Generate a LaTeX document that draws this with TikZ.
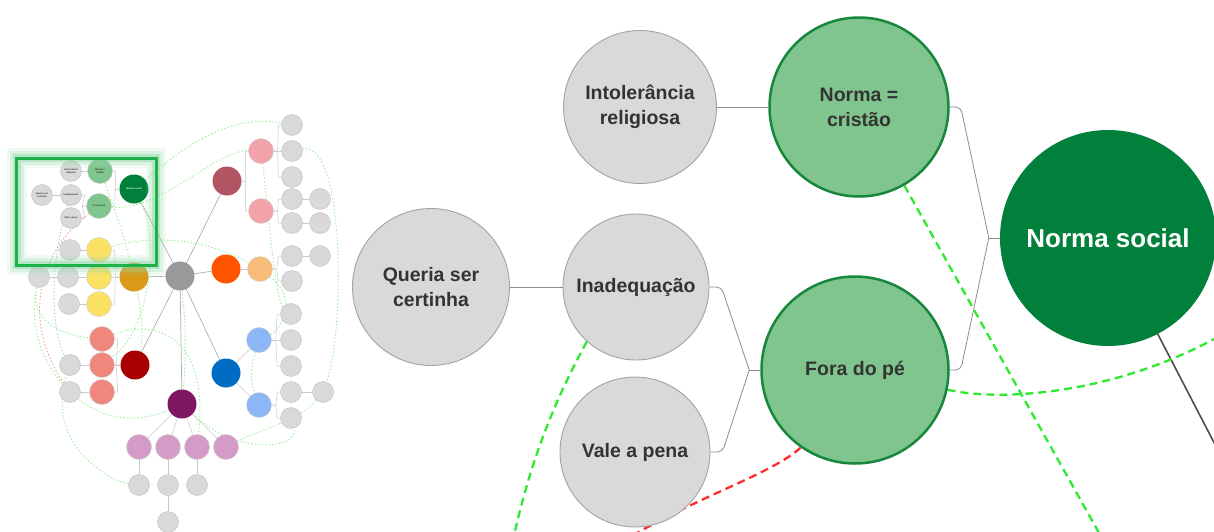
\documentclass[tikz,border=0pt]{standalone}
\usepackage{fontspec}
\setmainfont{Liberation Sans}
\usetikzlibrary{positioning,backgrounds}
\definecolor{ballgray}{HTML}{D9D9D9}
\definecolor{ballline}{HTML}{A3A3A3}
\definecolor{labeltext}{HTML}{333333}
\definecolor{lightgreen}{HTML}{80C48E}
\definecolor{darkgreen}{HTML}{17873D}
\definecolor{normagreen}{HTML}{00803A}
\definecolor{linkgray}{HTML}{8C8C8C}
\definecolor{hubgray}{HTML}{4D4D4D}
\definecolor{dashgreen}{HTML}{2EEA2E}
\definecolor{dashred}{HTML}{FF2A2A}
\definecolor{framegreen}{HTML}{1DB04B}
\definecolor{minidot}{HTML}{9BEE9B}
\definecolor{minired}{HTML}{F4A0A0}
\definecolor{centergray}{HTML}{999999}
\definecolor{goldball}{HTML}{D89A17}
\definecolor{yellowball}{HTML}{FBE164}
\definecolor{salmonball}{HTML}{F0877C}
\definecolor{darkredball}{HTML}{A80000}
\definecolor{purpleball}{HTML}{7D1761}
\definecolor{mauveball}{HTML}{D39BC6}
\definecolor{blueball}{HTML}{006CC4}
\definecolor{skyball}{HTML}{8DB6F7}
\definecolor{orangeball}{HTML}{FF5500}
\definecolor{peachball}{HTML}{F9BC78}
\definecolor{maroonball}{HTML}{B25563}
\definecolor{roseball}{HTML}{F2A3AA}
\newcommand*{\branchright}[2]{\draw[minilink] (#1.east) -- ++(4,0) -- ([xshift=-3pt]#2.west) -- (#2.west);}
\newcommand*{\branchleft}[2]{\draw[minilink] (#1.west) -- ++(-4,0) -- ([xshift=3pt]#2.east) -- (#2.east);}

\begin{document}
\begin{tikzpicture}[x=1pt, y=-1pt,
    ball/.style={circle, inner sep=0pt, align=center, text=labeltext,
      font=\bfseries\fontsize{19.5}{25}\selectfont},
    grayball/.style={ball, draw=ballline, fill=ballgray, line width=0.9pt},
    greenball/.style={ball, draw=darkgreen, fill=lightgreen, line width=2.5pt},
    rootball/.style={ball, fill=normagreen, text=white,
      font=\bfseries\fontsize{26}{30}\selectfont},
    link/.style={draw=linkgray, line width=0.8pt},
    hublink/.style={draw=hubgray, line width=1.6pt},
    greendash/.style={draw=dashgreen, line width=2.3pt, dash pattern=on 8pt off 5pt},
    reddash/.style={draw=dashred, line width=2.3pt, dash pattern=on 8pt off 5pt},
    mini/.style={circle, inner sep=0pt, minimum size=21pt, draw=ballline!70,
      line width=0.4pt, fill=ballgray, align=center, text=labeltext,
      font=\bfseries\fontsize{2.4}{2.9}\selectfont},
    minimid/.style={mini, minimum size=25pt, draw=black!20},
    minihub/.style={mini, minimum size=29pt, draw=none},
    minilink/.style={draw=ballline!60, line width=0.5pt},
    minihublink/.style={draw=centergray!80, line width=0.7pt},
    minidots/.style={draw=minidot, line width=0.9pt, dash pattern=on 1.5pt off 2pt},
    minireds/.style={draw=minired, line width=0.9pt, dash pattern=on 1.5pt off 2pt}]

  \path[use as bounding box] (0,0) rectangle (1214,531);
  \clip (0,0) rectangle (1214,531);

  \node[minihub, fill=centergray] (mcentro) at (180,276) {};
  \node[minihub, fill=normagreen, text=white] (mnorma) at (134,189) {Norma social};
  \node[minihub, fill=goldball] (migreja) at (134,277) {};
  \node[minihub, fill=darkredball] (mred) at (135,365) {};
  \node[minihub, fill=purpleball] (mpurple) at (182,404) {};
  \node[minihub, fill=blueball] (mblue) at (226,373) {};
  \node[minihub, fill=orangeball] (morange) at (226,269) {};
  \node[minihub, fill=maroonball] (mmaroon) at (227,181) {};

  \node[minimid, fill=lightgreen] (mcristao) at (100,171) {Norma =\\cristão};
  \node[minimid, fill=lightgreen] (mfora) at (99,206) {Fora do pé};
  \node[mini] (mintol) at (71,171) {Intolerância\\religiosa};
  \node[mini] (mcert) at (42,195) {Queria ser\\certinha};
  \node[mini] (minad) at (71,195) {Inadequação};
  \node[mini] (mvale) at (71,218) {Vale a pena};

  \foreach \n/\x/\y/\c in {my1/99/250/yellowball, my2/99/277/yellowball,
      my3/99/304/yellowball, ms1/102/339/salmonball, ms2/102/365/salmonball,
      ms3/102/392/salmonball, mk1/139/447/mauveball, mk2/168/447/mauveball,
      mk3/197/447/mauveball, mk4/226/447/mauveball, mb1/259/340/skyball,
      mb2/259/405/skyball, mo1/260/269/peachball, mp1/261/151/roseball,
      mp2/261/211/roseball}
  {
    \node[minimid, fill=\c] (\n) at (\x,\y) {};
  }

  \foreach \n/\x/\y in {la/70/250, lb/68/277, lc/39/277, ld/69/304, le/70/365,
      lf/70/392, lg/139/485, lh/168/485, li/197/485, lj/168/522, lk/291/314,
      ll/291/340, lm/291/366, ln/291/392, lo/323/392, lp/291/418, lq/292/256,
      lr/320/256, ls/292/281, lt/292/125, lu/292/151, lv/292/177, lw/292/199,
      lx/320/199, ly/292/223, lz/320/223}
  {
    \node[mini] (\n) at (\x,\y) {};
  }

  \begin{scope}[on background layer]
    \foreach \h in {mnorma, migreja, mred, mpurple, mblue, morange, mmaroon}
    {
      \draw[minihublink] (mcentro) -- (\h);
    }
    \foreach \a/\b in {mmaroon/mp1, mmaroon/mp2, mp1/lt, mp1/lu, mp1/lv, mp2/lw,
        mp2/ly, mo1/lq, mo1/ls, mb1/lk, mb1/ll, mb1/lm, mb2/ln, mb2/lp}
    {
      \branchright{\a}{\b}
    }
    \foreach \a/\b in {mnorma/mcristao, mnorma/mfora, mfora/minad, mfora/mvale,
        migreja/my1, migreja/my2, migreja/my3, mred/ms1, mred/ms2, mred/ms3}
    {
      \branchleft{\a}{\b}
    }
    \foreach \a/\b in {mcristao/mintol, minad/mcert, my1/la, my2/lb, lb/lc, my3/ld,
        ms2/le, ms3/lf, lw/lx, ly/lz, lq/lr, ln/lo, morange/mo1, mblue/mb1,
        mblue/mb2, mpurple/mk1, mpurple/mk2, mpurple/mk3, mpurple/mk4,
        mk1/lg, mk2/lh, mk3/li, lh/lj}
    {
      \draw[minilink] (\a) -- (\b);
    }

    \draw[minidots]
      (mfora) .. controls (160,212) and (215,150) .. (mp1)
      (mnorma) .. controls (170,160) and (220,112) .. (lt)
      (mcristao) .. controls (125,235) and (150,320) .. (mred)
      (lc) .. controls (20,360) and (90,445) .. (mpurple)
      (mpurple) .. controls (235,455) and (300,450) .. (lp)
      (mcentro) .. controls (186,320) and (186,360) .. (mpurple)
      (lu) .. controls (345,140) and (345,330) .. (lo)
      (my1) .. controls (150,236) and (200,236) .. (mo1)
      (lg) .. controls (105,480) and (45,440) .. (le)
      (ms1) .. controls (150,320) and (210,330) .. (mk3)
      (mo1) .. controls (300,300) and (280,330) .. (mb1)
      (lc) .. controls (30,320) and (60,335) .. (ms1)
      (mnorma) .. controls (160,240) and (150,330) .. (ms2)
      (mk4) .. controls (260,430) and (300,420) .. (lo)
      (mb1) .. controls (250,370) and (250,380) .. (mb2)
      (mp1) .. controls (265,180) and (275,300) .. (lk);
    \draw[minidots, draw=teal!35] (minad) .. controls (50,260) and (50,330) .. (le);
    \draw[minireds] (mfora) .. controls (40,250) and (20,320) .. (lf);
  \end{scope}

  \draw[framegreen!45, line width=20pt, opacity=0.15] (16.5,158) rectangle (156,265);
  \draw[framegreen!45, line width=14pt, opacity=0.25] (16.5,158) rectangle (156,265);
  \draw[framegreen!60, line width=8pt, opacity=0.35] (16.5,158) rectangle (156,265);
  \draw[framegreen, line width=3pt] (16.5,158) rectangle (156,265);

  \node[grayball, minimum size=153pt] (intolerancia) at (640,107) {Intolerância\\religiosa};
  \node[greenball, minimum size=179pt] (cristao) at (859,107) {Norma =\\cristão};
  \node[rootball, minimum size=216pt] (norma) at (1108,238) {Norma social};
  \node[grayball, minimum size=157pt] (certinha) at (431,287) {Queria ser\\certinha};
  \node[grayball, minimum size=146pt] (inadequacao) at (636,287) {Inadequação};
  \node[greenball, minimum size=187pt] (fora) at (855,370) {Fora do pé};
  \node[grayball, minimum size=150pt] (valepena) at (635,452) {Vale a pena};

  \coordinate[left=11pt of fora] (jfora);
  \coordinate[left=11pt of norma] (jnorma);
  \coordinate (centro) at (1308,624);
  \coordinate (alvo1) at (1103,540);
  \coordinate (alvo2) at (1230,330);
  \coordinate (alvo3) at (512,545);
  \coordinate (alvo4) at (625,540);

  \begin{scope}[on background layer]
    \draw[link]
      (intolerancia) -- (cristao)
      (certinha) -- (inadequacao)
      (fora.west) -- (jfora)
      (norma.west) -- (jnorma);
    \draw[link, rounded corners=5pt]
      (inadequacao.east) -- ++(12,0) -- (jfora)
      (valepena.east) -- ++(12,0) -- (jfora)
      (cristao.east) -- ++(11,0) -- (jnorma)
      (fora.east) -- ++(11,0) -- (jnorma);
    \draw[hublink] (norma) -- (centro);

    \draw[greendash] (cristao.-60) -- (alvo1);
    \draw[greendash] (fora.-12) .. controls (1000,402) and (1120,395) .. (alvo2);
    \draw[greendash] (inadequacao.-132) .. controls (555,400) and (530,460) .. (alvo3);
    \draw[reddash] (fora.-125) .. controls (770,475) and (700,495) .. (alvo4);
  \end{scope}
\end{tikzpicture}
\end{document}
